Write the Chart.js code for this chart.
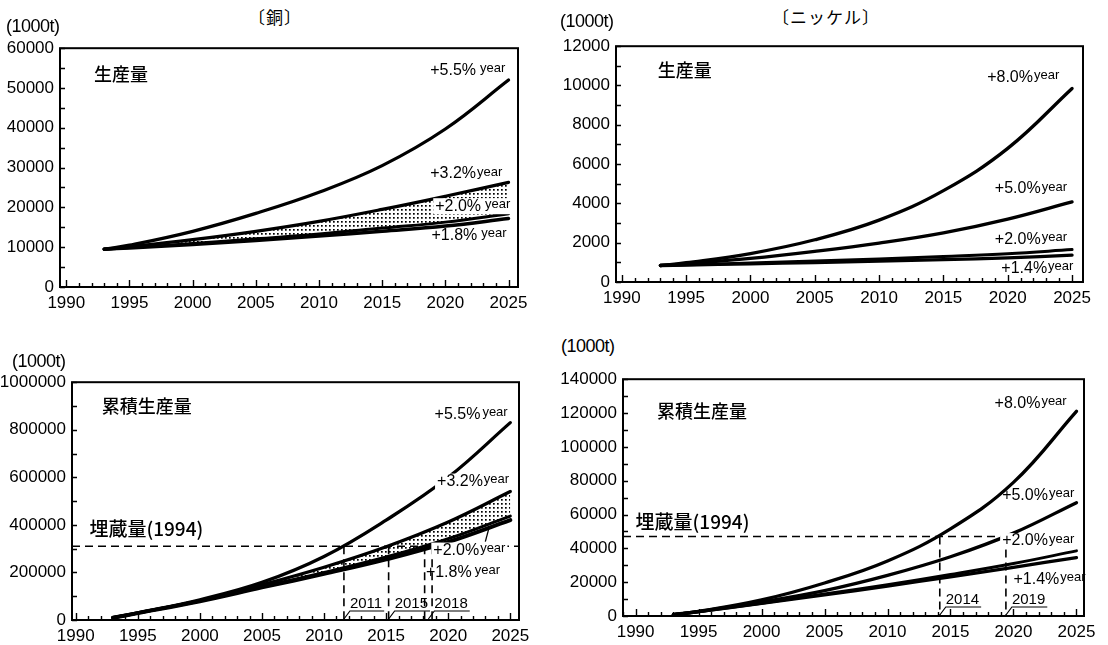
<!DOCTYPE html>
<html>
<head>
<meta charset="utf-8">
<script src="https://cdn.jsdelivr.net/npm/chart.js@4.4.1/dist/chart.umd.min.js"></script>
<style>
  html, body { margin: 0; padding: 0; background: #fff; }
  body { position: relative; width: 1108px; height: 645px; overflow: hidden; }
  canvas { position: absolute; }
  .txt { position: absolute; white-space: nowrap; color: #000; line-height: 1; z-index: 5; }
  .head { font: 17px "Noto Sans CJK JP", sans-serif; letter-spacing: 1px; }
  .unit { font: 18px "Liberation Sans", sans-serif; letter-spacing: -0.5px; }
</style>
</head>
<body>
<div class="txt head" lang="ja" style="left:248px;top:4px;">〔銅〕</div>
<div class="txt head" lang="ja" style="left:772px;top:4px;">〔ニッケル〕</div>
<div class="txt unit" style="left:6px;top:16px;">(1000t)</div>
<div class="txt unit" style="left:560px;top:11px;">(1000t)</div>
<div class="txt unit" style="left:12px;top:351px;">(1000t)</div>
<div class="txt unit" style="left:561px;top:336px;">(1000t)</div>

<script>
// ---- years on the x axis ----
const years = [1993, 1995, 2000, 2005, 2010, 2015, 2020, 2025];
const xTickYears = [1990, 1995, 2000, 2005, 2010, 2015, 2020, 2025];

// ---- y tick labels per panel ----
const cuOutTicks = [0, 10000, 20000, 30000, 40000, 50000, 60000];
const niOutTicks = [0, 2000, 4000, 6000, 8000, 10000, 12000];
const cuCumTicks = [0, 200000, 400000, 600000, 800000, 1000000];
const niCumTicks = [0, 20000, 40000, 60000, 80000, 100000, 120000, 140000];

// ---- copper: annual output (1000 t) by growth case ----
const cuOut55 = [9500, 10500, 14000, 18500, 23800, 30500, 39700, 52000];
const cuOut32 = [9500, 10100, 11900, 14000, 16500, 19500, 22800, 26300];
const cuOut20 = [9500, 9900, 10900, 12100, 13300, 14800, 16300, 18400];
const cuOut18 = [9500, 9800, 10700, 11700, 12800, 14000, 15300, 17200];

// ---- nickel: annual output (1000 t) by growth case ----
const niOut80 = [840, 980, 1450, 2150, 3150, 4650, 6800, 9850];
const niOut50 = [840, 925, 1200, 1560, 1980, 2500, 3200, 4080];
const niOut20 = [840, 875, 965, 1065, 1175, 1300, 1440, 1650];
const niOut14 = [840, 865, 925, 990, 1060, 1140, 1230, 1370];

// ---- copper: cumulative output (1000 t) ----
const cuCum55 = [9500, 30000, 85000, 158000, 267000, 420000, 600000, 830000];
const cuCum32 = [9500, 29500, 82000, 148000, 222000, 308000, 412000, 540000];
const cuCum20 = [9500, 29000, 80000, 140000, 200000, 265000, 342000, 437000];
const cuCum18 = [9500, 28800, 79000, 137000, 194000, 255000, 328000, 420000];

// ---- nickel: cumulative output (1000 t) ----
const niCum80 = [840, 2700, 9500, 19500, 32500, 51500, 79000, 121000];
const niCum50 = [840, 2650, 8300, 15000, 24000, 35000, 49000, 67000];
const niCum20 = [840, 2550, 7600, 13000, 18500, 24500, 31000, 38500];
const niCum14 = [840, 2540, 7400, 12500, 17700, 23200, 28800, 34500];

// ---- 1994 reserves and the years cumulative output reaches them ----
const cuReserve = 310000;
const cuCrossYears = [2011.6, 2015.2, 2018.1, 2018.7];
const cuCrossLabels = [
  { text: '2011', at: 2011.6 },
  { text: '2015', at: 2015.2 },
  { text: '2018', at: 2018.4 }
];
const niReserve = 47000;
const niCrossYears = [2014.15, 2019.4];
const niCrossLabels = [
  { text: '2014', at: 2014.15 },
  { text: '2019', at: 2019.4 }
];

// ---- layout constants ----
const AXW = 72, AXH = 30, PT = 12, PR = 32;
const NUM = '"Liberation Sans", sans-serif';
const SANS = '"Liberation Sans", sans-serif';
const CJK = '"Noto Sans CJK JP", sans-serif';

const pts = vals => years.map((x, i) => ({ x, y: vals[i] }));

function stipple(ctx) {
  const c = document.createElement('canvas');
  c.width = 4; c.height = 4;
  const g = c.getContext('2d');
  g.fillStyle = '#000';
  g.fillRect(1, 1, 1.7, 1.7);
  return ctx.createPattern(c, 'repeat');
}

// frame, inward ticks, reserve lines and curve labels
const decor = {
  id: 'decor',
  afterDatasetsDraw(chart, args, o) {
    const { ctx, chartArea: a, scales: { x, y } } = chart;
    ctx.save();
    ctx.strokeStyle = '#000';
    ctx.fillStyle = '#000';

    // reserve level and crossing years
    if (o.reserve != null) {
      const ry = y.getPixelForValue(o.reserve);
      const xEnd = o.reserveEnd != null ? x.getPixelForValue(o.reserveEnd) : a.right;
      ctx.lineWidth = 1.6;
      ctx.setLineDash([8, 5]);
      ctx.beginPath();
      ctx.moveTo(a.left, ry); ctx.lineTo(xEnd, ry);
      o.crossYears.forEach(yr => {
        const px = x.getPixelForValue(yr);
        ctx.moveTo(px, ry); ctx.lineTo(px, a.bottom);
      });
      ctx.stroke();
      ctx.setLineDash([]);
      ctx.lineWidth = 1.2;
      ctx.font = '15px ' + NUM;
      ctx.textBaseline = 'alphabetic';
      ctx.textAlign = 'left';
      o.crossLabels.forEach(l => {
        const px = x.getPixelForValue(l.at);
        const w = ctx.measureText(l.text).width;
        ctx.beginPath();
        ctx.moveTo(px, a.bottom - 1);
        ctx.lineTo(px + 6, a.bottom - 9);
        ctx.lineTo(px + 8 + w, a.bottom - 9);
        ctx.stroke();
        ctx.fillText(l.text, px + 6, a.bottom - 12);
      });
    }

    // curve labels
    (o.tags || []).forEach(t => {
      const px = x.getPixelForValue(t.x);
      const py = y.getPixelForValue(t.y);
      ctx.textBaseline = 'middle';
      ctx.textAlign = 'left';
      if (t.cjk) {
        ctx.font = '500 ' + (t.size || 18) + 'px ' + CJK;
        ctx.fillText(t.text, px, py);
        return;
      }
      ctx.font = '16px ' + SANS;
      const w1 = ctx.measureText(t.text).width;
      ctx.font = '13px ' + SANS;
      const gap = t.gap != null ? t.gap : 4;
      const w2 = ctx.measureText('year').width;
      if (t.knock) {
        ctx.fillStyle = '#fff';
        ctx.fillRect(px - 2, py - 8, w1 + gap + w2 + 4, 16);
        ctx.fillStyle = '#000';
      }
      ctx.font = '16px ' + SANS;
      ctx.fillText(t.text, px, py);
      ctx.font = '13px ' + SANS;
      ctx.fillText('year', px + w1 + gap, py - 2);
      if (t.leader) {
        ctx.lineWidth = 1.3;
        ctx.beginPath();
        ctx.moveTo(px + t.leader[0], py + t.leader[1]);
        ctx.lineTo(px + t.leader[2], py + t.leader[3]);
        ctx.stroke();
      }
    });

    // inward tick marks
    ctx.lineWidth = 1.4;
    ctx.beginPath();
    for (let yr = Math.ceil(x.min); yr <= Math.floor(x.max); yr++) {
      const px = Math.round(x.getPixelForValue(yr)) + 0.5;
      const len = yr % 5 === 0 ? 7 : 4;
      ctx.moveTo(px, a.bottom); ctx.lineTo(px, a.bottom - len);
    }
    for (let v = 0; v <= y.max + 1e-6; v += o.yMinor) {
      const py = Math.round(y.getPixelForValue(v)) + 0.5;
      ctx.moveTo(a.left, py); ctx.lineTo(a.left + 5, py);
    }
    ctx.stroke();

    // frame
    ctx.lineWidth = 2;
    ctx.strokeRect(a.left, a.top, a.right - a.left, a.bottom - a.top);
    ctx.restore();
  }
};

function panel(rect, xr, yTicks, yMinor, series, extra) {
  const W = rect.r - rect.l + AXW + PR;
  const H = rect.b - rect.t + PT + AXH;
  const cv = document.createElement('canvas');
  cv.width = W; cv.height = H;
  cv.style.left = (rect.l - AXW) + 'px';
  cv.style.top = (rect.t - PT) + 'px';
  cv.style.width = W + 'px';
  cv.style.height = H + 'px';
  document.body.appendChild(cv);
  const ctx = cv.getContext('2d');

  const datasets = series.map(s => ({
    data: pts(s.vals),
    borderColor: '#000',
    borderWidth: s.w || 3.3,
    pointRadius: 0,
    tension: 0.4,
    borderCapStyle: 'round',
    fill: s.fillNext ? '+1' : false,
    backgroundColor: s.fillNext ? stipple(ctx) : 'transparent'
  }));

  return new Chart(cv, {
    type: 'line',
    data: { datasets },
    plugins: [decor],
    options: {
      responsive: false,
      animation: false,
      devicePixelRatio: 1,
      layout: { padding: { left: 0, top: PT, right: PR, bottom: 0 } },
      plugins: {
        legend: { display: false },
        tooltip: { enabled: false },
        decor: Object.assign({ yMinor }, extra)
      },
      scales: {
        x: {
          type: 'linear', min: xr[0], max: xr[1],
          afterBuildTicks: ax => { ax.ticks = xTickYears.map(v => ({ value: v })); },
          afterFit: s => { s.height = AXH; },
          grid: { display: false, drawTicks: false },
          border: { display: false },
          ticks: {
            autoSkip: false, maxRotation: 0, minRotation: 0, padding: 6,
            color: '#000', font: { family: NUM, size: 17 },
            callback: v => String(v)
          }
        },
        y: {
          type: 'linear', min: 0, max: yTicks[yTicks.length - 1],
          afterBuildTicks: ax => { ax.ticks = yTicks.map(v => ({ value: v })); },
          afterFit: s => { s.width = AXW; },
          grid: { display: false, drawTicks: false },
          border: { display: false },
          ticks: {
            padding: 6, color: '#000', font: { family: NUM, size: 17 },
            callback: v => String(v)
          }
        }
      }
    }
  });
}

// copper – annual output
panel({ l: 60, t: 44, r: 518, b: 287 }, [1989.5, 2025.75], cuOutTicks, 5000, [
  { vals: cuOut55 },
  { vals: cuOut32, fillNext: true },
  { vals: cuOut20, w: 3 },
  { vals: cuOut18, w: 3.5 }
], {
  tags: [
    { text: '生産量', cjk: true, x: 1992.2, y: 53500 },
    { text: '+5.5%', x: 2018.8, y: 54300 },
    { text: '+3.2%', x: 2018.8, y: 28400, gap: 1 },
    { text: '+2.0%', x: 2019.2, y: 20300, knock: true },
    { text: '+1.8%', x: 2018.9, y: 12900 }
  ]
});

// nickel – annual output
panel({ l: 616, t: 42, r: 1083, b: 282 }, [1989.55, 2025.85], niOutTicks, 1000, [
  { vals: niOut80 },
  { vals: niOut50 },
  { vals: niOut20, w: 3 },
  { vals: niOut14, w: 3.3 }
], {
  tags: [
    { text: '生産量', cjk: true, x: 1992.8, y: 10800 },
    { text: '+8.0%', x: 2018.4, y: 10400, gap: 1 },
    { text: '+5.0%', x: 2019.0, y: 4730, gap: 1 },
    { text: '+2.0%', x: 2019.0, y: 2180, gap: 1 },
    { text: '+1.4%', x: 2019.5, y: 690, gap: 1 }
  ]
});

// copper – cumulative output
panel({ l: 72, t: 378, r: 519, b: 620 }, [1989.7, 2025.7], cuCumTicks, 100000, [
  { vals: cuCum55 },
  { vals: cuCum32, fillNext: true },
  { vals: cuCum20, w: 3 },
  { vals: cuCum18, w: 4 }
], {
  reserve: cuReserve,
  crossYears: cuCrossYears,
  crossLabels: cuCrossLabels,
  tags: [
    { text: '累積生産量', cjk: true, x: 1992.1, y: 900000 },
    { text: '埋蔵量(1994)', cjk: true, size: 19, x: 1991.1, y: 383000 },
    { text: '+5.5%', x: 2018.9, y: 863000, gap: 2 },
    { text: '+3.2%', x: 2019.1, y: 582000, gap: 1, knock: true },
    { text: '+2.0%', x: 2018.8, y: 292000, gap: 1, knock: true, leader: [52, -9, 56, -24] },
    { text: '+1.8%', x: 2018.2, y: 201000, gap: 3 }
  ]
});

// nickel – cumulative output
panel({ l: 623, t: 375, r: 1084, b: 616 }, [1989.0, 2025.6], niCumTicks, 10000, [
  { vals: niCum80 },
  { vals: niCum50 },
  { vals: niCum20, w: 3 },
  { vals: niCum14, w: 3.3 }
], {
  reserve: niReserve,
  reserveEnd: 2019.4,
  crossYears: niCrossYears,
  crossLabels: niCrossLabels,
  tags: [
    { text: '累積生産量', cjk: true, x: 1991.7, y: 121000 },
    { text: '埋蔵量(1994)', cjk: true, size: 19, x: 1990.0, y: 55900 },
    { text: '+8.0%', x: 2018.5, y: 125500, gap: 1 },
    { text: '+5.0%', x: 2019.1, y: 71000, gap: 1 },
    { text: '+2.0%', x: 2019.1, y: 44300, gap: 1, knock: true },
    { text: '+1.4%', x: 2020.0, y: 21700, gap: 1 }
  ]
});
</script>
</body>
</html>
